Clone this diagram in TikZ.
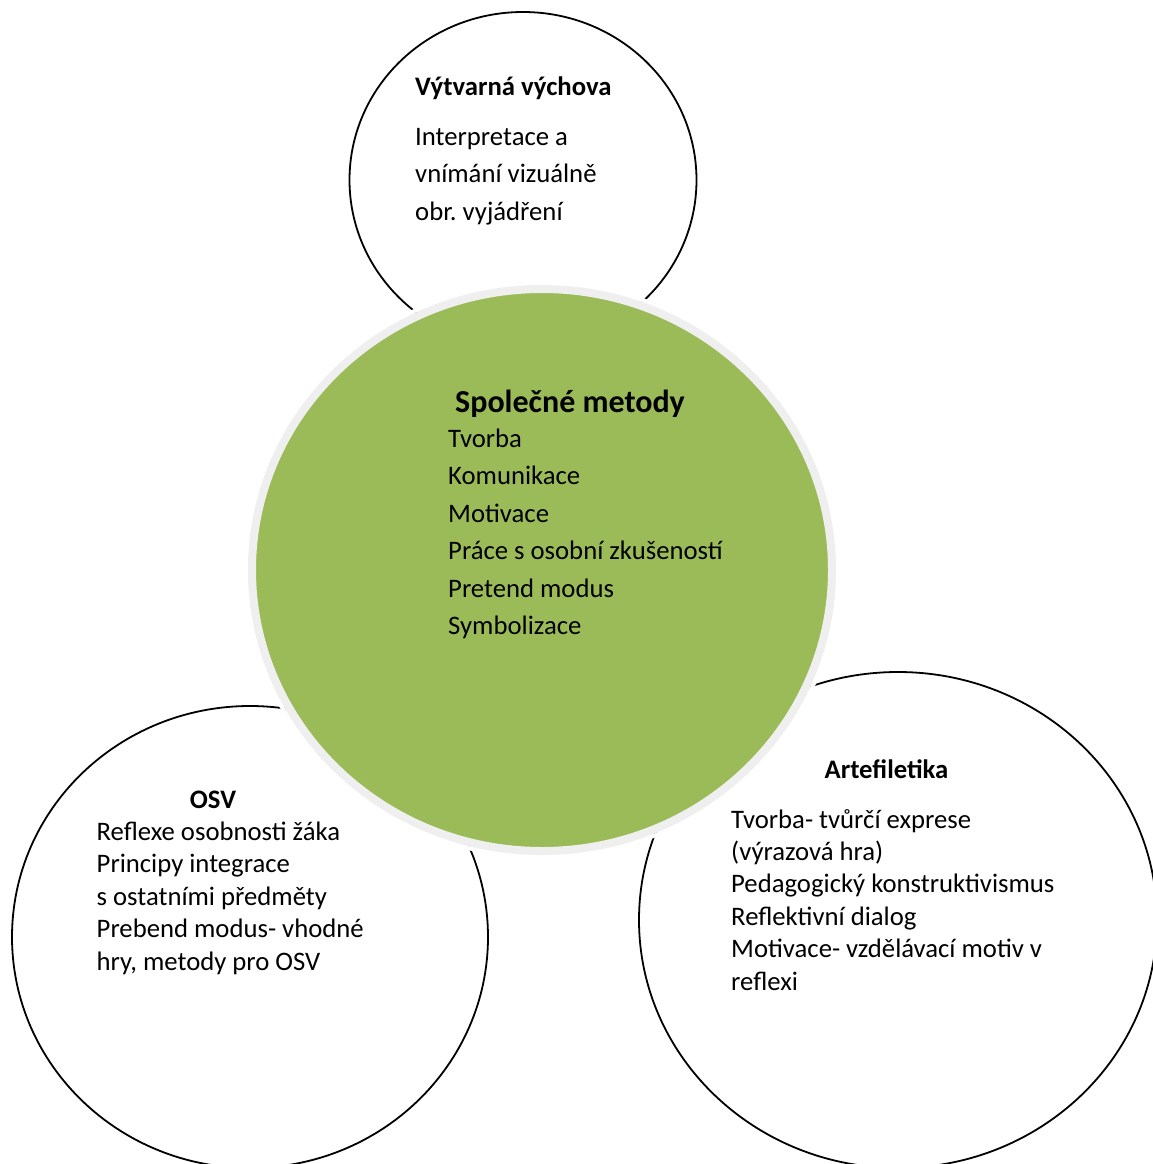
\documentclass[tikz,border=0pt]{standalone}
\usepackage{fontspec}
\setmainfont{Carlito}
\usetikzlibrary{shapes.geometric}
\frenchspacing
\definecolor{coreolive}{HTML}{9BBB59}
\definecolor{ringgray}{HTML}{EFEFEF}
\newcommand\txtlines[2]{\vtop{\baselineskip=#1\lineskiplimit=-\maxdimen\lineskip=0pt\relax #2}}
\tikzset{
  side/.style={ellipse, draw=black, line width=1.8pt, fill=white, inner sep=0pt},
  body/.style={anchor=base west, inner sep=0pt, font=\fontsize{26.7pt}{32.5pt}\selectfont},
  head/.style={anchor=base west, inner sep=0pt, font=\fontsize{26.7pt}{32.5pt}\selectfont\bfseries},
}
\begin{document}
\begin{tikzpicture}[x=1pt,y=-1pt]
\useasboundingbox (0,0) rectangle (1153,1164);
\clip (0,0) rectangle (1153,1164);
% outer circles
\node[side, minimum width=347pt, minimum height=336pt] (vv) at (523,180) {};
\node[side, minimum width=476pt, minimum height=462pt] (osv) at (250,937) {};
\node[side, minimum width=518pt, minimum height=496pt] (art) at (898,920) {};
% central circle
\node[ellipse, draw=white, line width=4pt, inner sep=0pt, minimum width=592pt, minimum height=574pt] (halo) at (542,570) {};
\node[ellipse, fill=coreolive, draw=ringgray, line width=8pt, inner sep=0pt, minimum width=580pt, minimum height=562pt] (core) at (542,570) {};
% texts
\node[head] (vvt) at (415,95) {Výtvarná výchova};
\node[body] (vvb) at (415,145) {\txtlines{37.5pt}{\hbox{Interpretace a}\hbox{vnímání vizuálně}\hbox{obr. vyjádření}}};
\node[anchor=base west, inner sep=0pt, font=\fontsize{32pt}{38pt}\selectfont\bfseries] (spt) at (455,412) {Společné metody};
\node[body] (spb) at (448,447) {\txtlines{37.5pt}{\hbox{Tvorba}\hbox{Komunikace}\hbox{Motivace}\hbox{Práce s osobní zkušeností}\hbox{Pretend modus}\hbox{Symbolizace}}};
\node[head, anchor=base] (osvt) at (213,808) {OSV};
\node[body] (osvb) at (96.5,840) {\txtlines{32.6pt}{\hbox{Reflexe osobnosti žáka}\hbox{Principy integrace}\hbox{s ostatními předměty}\hbox{Prebend modus- vhodné}\hbox{hry, metody pro OSV}}};
\node[head, anchor=base] (artt) at (886.5,778) {Artefiletika};
\node[body] (artb) at (731,828) {\txtlines{32.4pt}{\hbox{Tvorba- tvůrčí exprese}\hbox{(výrazová hra)}\hbox{Pedagogický konstruktivismus}\hbox{Reflektivní dialog}\hbox{Motivace- vzdělávací motiv v}\hbox{reflexi}}};
\end{tikzpicture}
\end{document}
